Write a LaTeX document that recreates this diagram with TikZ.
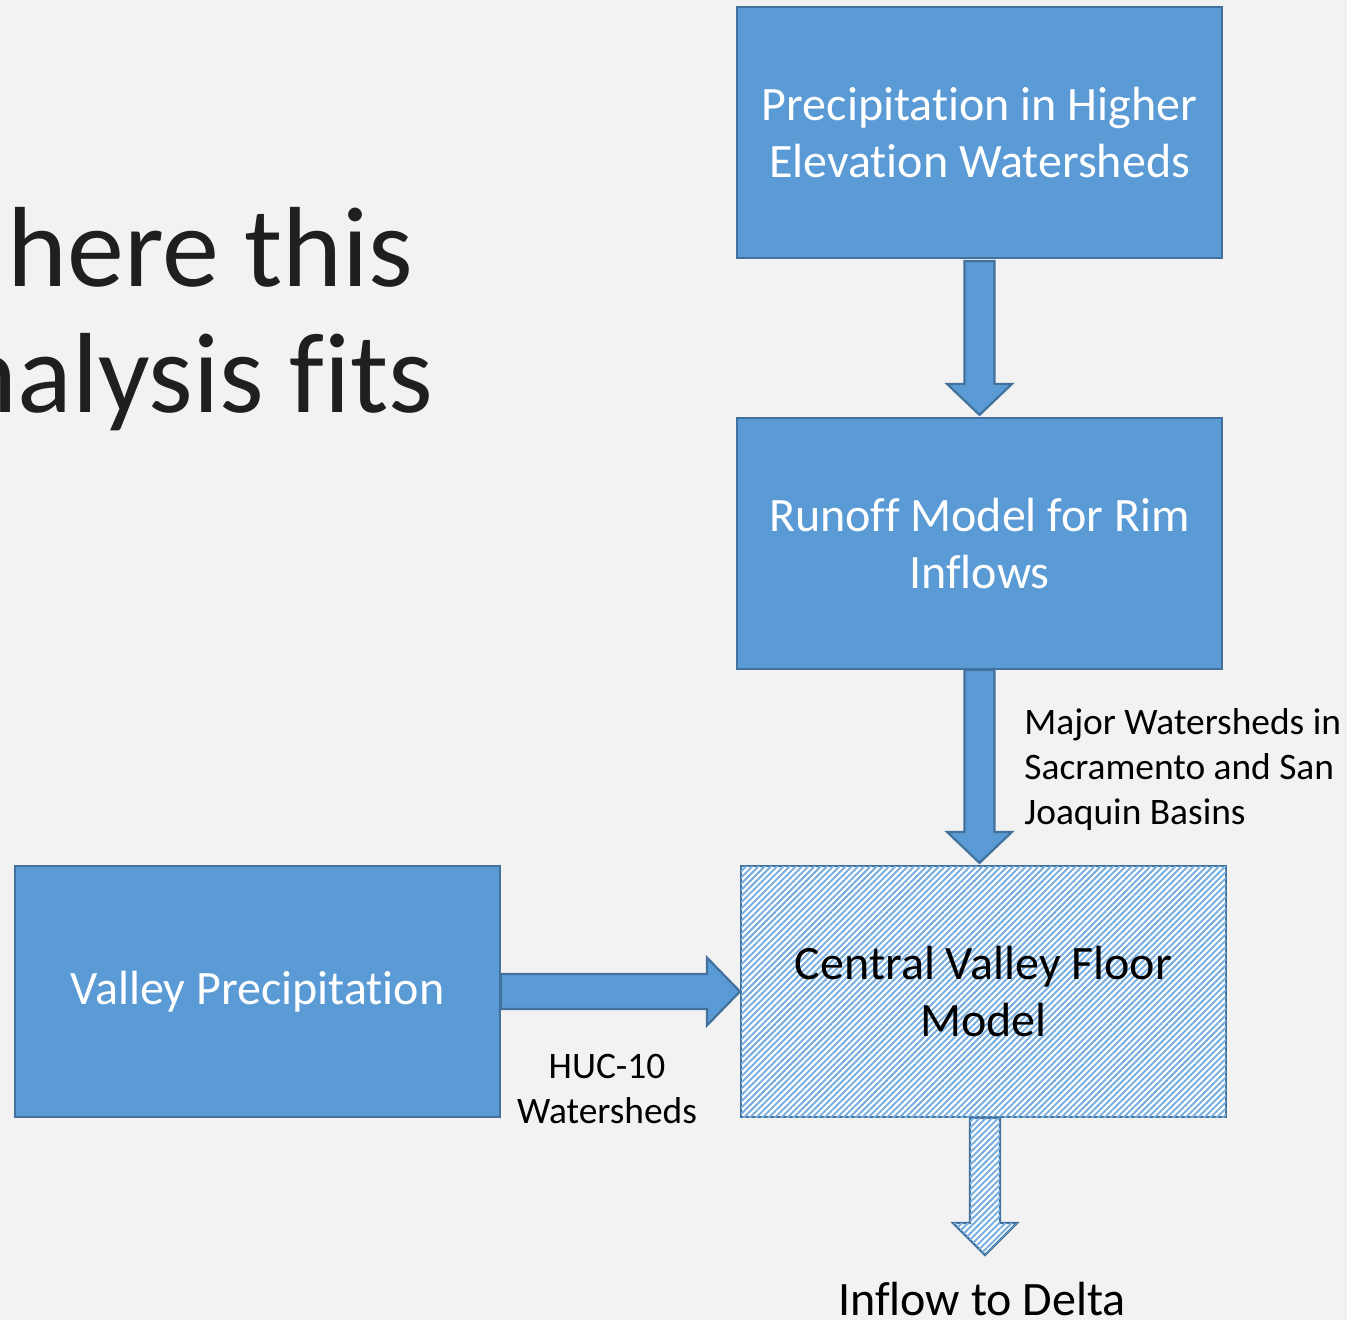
\documentclass[tikz,border=0pt]{standalone}
\usepackage{fontspec}
\setmainfont{Carlito}[Ligatures={NoCommon}]
\usetikzlibrary{calc,patterns.meta}
\definecolor{bg}{HTML}{F2F2F2}
\definecolor{boxfill}{HTML}{5B9BD5}
\definecolor{boxline}{HTML}{41719C}
\definecolor{hatch}{HTML}{78AEE0}
\begin{document}
\begin{tikzpicture}[x=0.5pt,y=-0.5pt,
  bluebox/.style={draw=boxline, line width=1.1pt, fill=boxfill, minimum width=242.5pt, minimum height=125.5pt, inner sep=0pt, text=white, align=center, font=\fontsize{24}{28.5}\selectfont},
  hatchbox/.style={bluebox, fill=white, postaction={pattern={Lines[angle=45,distance=2.2pt,line width=1pt]}, pattern color=hatch}, text=black},
  barrow/.style={draw=boxline, line width=1.1pt, fill=boxfill, line join=miter},
  harrow/.style={draw=boxline, line width=1.1pt, fill=white, postaction={pattern={Lines[angle=45,distance=2.2pt,line width=1pt]}, pattern color=hatch}},
  smalllabel/.style={font=\fontsize{18.7}{22.5}\selectfont, text=black, inner sep=0pt},
  title/.style={font=\fontsize{57}{63}\selectfont, text=black!88, inner sep=0pt}]
\path[use as bounding box, fill=bg] (0,0) rectangle (1347,1320);
\clip (0,0) rectangle (1347,1320);

\node[title, anchor=base east] (t1) at (414,287) {here this};
\node[title, anchor=base east] (t2) at (434,413) {nalysis fits};

\node[bluebox] (top) at (979.5,132.5) {Precipitation in Higher\\Elevation Watersheds};
\node[bluebox] (runoff) at (979.5,543.5) {Runoff Model for Rim\\Inflows};
\node[bluebox] (valley) at (257.5,991.5) {Valley Precipitation};
\node[hatchbox] (central) at (983.5,991.5) {Central Valley Floor\\Model};

\node[smalllabel, anchor=west, align=left] (major) at (1024,770) {Major Watersheds in\\Sacramento and San\\Joaquin Basins};
\node[smalllabel, align=center] (huc) at (607,1089) {HUC-10\\Watersheds};
\node[font=\fontsize{24}{28.5}\selectfont, text=black, inner sep=0pt, anchor=base] (delta) at (982,1315) {Inflow to Delta};
\coordinate (dtip) at (985,1255);

% top -> runoff
\draw[barrow] let \p1=(top.south), \p2=(runoff.north) in
  (\x1-7.5pt,\y1-1pt) -- (\x1+7.5pt,\y1-1pt) -- (\x1+7.5pt,\y2+16.5pt) -- (\x1+16.25pt,\y2+16.5pt)
  -- (\x1,\y2+1pt) -- (\x1-16.25pt,\y2+16.5pt) -- (\x1-7.5pt,\y2+16.5pt) -- cycle;
% runoff -> central
\draw[barrow] let \p1=(runoff.south), \p2=(central.north) in
  (\x1-7.5pt,\y1) -- (\x1+7.5pt,\y1) -- (\x1+7.5pt,\y2+16.5pt) -- (\x1+16.25pt,\y2+16.5pt)
  -- (\x1,\y2+1pt) -- (\x1-16.25pt,\y2+16.5pt) -- (\x1-7.5pt,\y2+16.5pt) -- cycle;
% valley -> central
\draw[barrow] let \p1=(valley.east), \p2=(central.west) in
  (\x1,\y1+8.75pt) -- (\x2-16.5pt,\y1+8.75pt) -- (\x2-16.5pt,\y1+17pt) -- (\x2,\y1)
  -- (\x2-16.5pt,\y1-17pt) -- (\x2-16.5pt,\y1-8.75pt) -- (\x1,\y1-8.75pt) -- cycle;
% central -> delta
\draw[harrow] let \p1=(central.south), \p2=(dtip) in
  (\x2-7.5pt,\y1) -- (\x2+7.5pt,\y1) -- (\x2+7.5pt,\y2+16pt) -- (\x2+16pt,\y2+16pt)
  -- (\x2,\y2) -- (\x2-16pt,\y2+16pt) -- (\x2-7.5pt,\y2+16pt) -- cycle;
\end{tikzpicture}
\end{document}
